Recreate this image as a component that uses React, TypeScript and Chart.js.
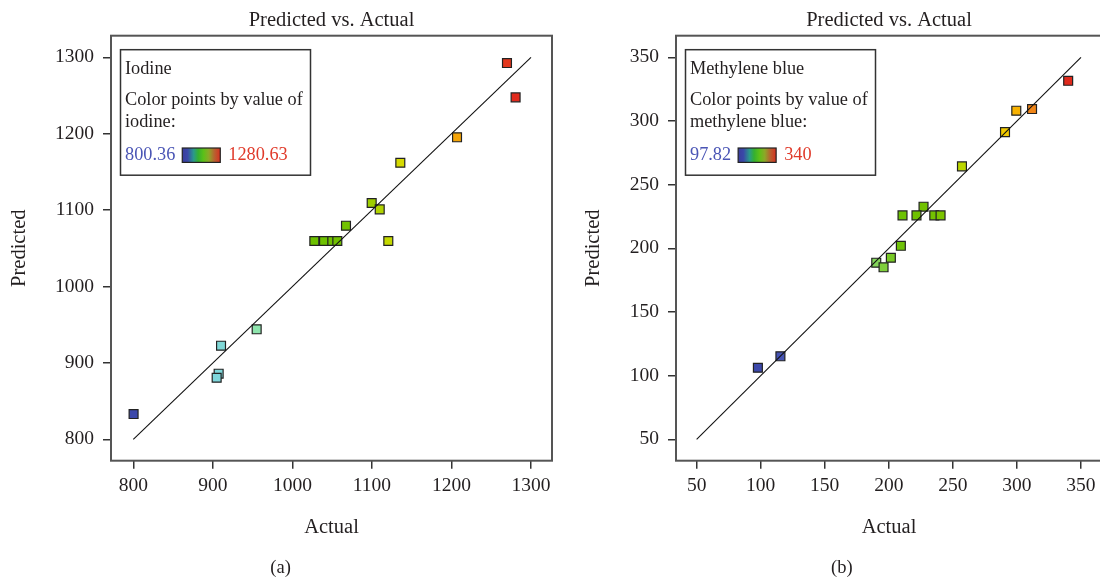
import React, { useEffect, useRef } from 'react';
import { Chart, registerables } from 'chart.js';

Chart.register(...registerables);

const FONT = '"Liberation Serif", "DejaVu Serif", serif';
const TEXT = '#231f20';

// ---------- Panel (a): Iodine ----------
const iodineActual = [1269.8, 1280.63, 1207, 1135.7, 1099.7, 1109.8, 1067.4, 1027.6, 1039.8, 1050.2, 1056.5, 1120.6, 955.1, 910.3, 907.3, 904.8, 800.36];
const iodinePredicted = [1292.5, 1247.6, 1195.3, 1162, 1109.3, 1101, 1079.6, 1059.6, 1059.6, 1059.6, 1059.6, 1059.6, 944, 922.5, 885.9, 880.6, 833.1];
const iodineTicks = [800, 900, 1000, 1100, 1200, 1300];
const iodineRange = [800.36, 1280.63];
const iodineLine = [800, 1300];

// ---------- Panel (b): Methylene blue ----------
const mbActual = [340, 311.8, 299.5, 290.7, 257.1, 227.1, 210.7, 221.6, 235.5, 240.4, 209.4, 201.6, 190.2, 195.9, 115.4, 97.82];
const mbPredicted = [331.6, 309.4, 308.1, 291.3, 264.4, 232.7, 225.9, 225.9, 225.9, 225.9, 202, 192.6, 188.7, 185.1, 115.2, 106.2];
const mbTicks = [50, 100, 150, 200, 250, 300, 350];
const mbRange = [97.82, 340];
const mbLine = [50, 350];

// ---------- colour map (style) ----------
const pointStops: [number, string][] = [
  [0.0, '#3c48aa'],
  [0.08, '#4654b4'],
  [0.2, '#7cd4e4'],
  [0.32, '#8ee6b0'],
  [0.4, '#80d040'],
  [0.47, '#6cc000'],
  [0.58, '#74c200'],
  [0.63, '#a4d000'],
  [0.68, '#d0dc00'],
  [0.79, '#f2d000'],
  [0.83, '#f8b400'],
  [0.88, '#f08818'],
  [0.94, '#e85020'],
  [1.0, '#e02a1c'],
];
const legendStops: [number, string][] = [
  [0, '#3a3c9c'],
  [0.14, '#3a48a8'],
  [0.3, '#2a9a8a'],
  [0.42, '#34b030'],
  [0.56, '#5cc018'],
  [0.7, '#8ca828'],
  [0.85, '#b86030'],
  [1, '#d83020'],
];

function hexRgb(h: string) {
  const n = parseInt(h.slice(1), 16);
  return [(n >> 16) & 255, (n >> 8) & 255, n & 255];
}
function colorFor(v: number, min: number, max: number) {
  const t = Math.max(0, Math.min(1, (v - min) / (max - min)));
  for (let i = 1; i < pointStops.length; i++) {
    const [t1, c1] = pointStops[i];
    const [t0, c0] = pointStops[i - 1];
    if (t <= t1) {
      const f = (t - t0) / (t1 - t0 || 1);
      const a = hexRgb(c0), b = hexRgb(c1);
      const r = a.map((x, k) => Math.round(x + (b[k] - x) * f));
      return `rgb(${r[0]},${r[1]},${r[2]})`;
    }
  }
  return pointStops[pointStops.length - 1][1];
}

type PanelCfg = {
  actual: number[];
  predicted: number[];
  ticks: number[];
  range: number[];
  line: number[];
  xMin: number; xMax: number; yMin: number; yMax: number;
  yAxisWidth: number;
  yTitlePad: number;
  legendTitle: string;
  legendLines: string[];
  panel: string;
  panelX: number;
};

function decorPlugin(cfg: PanelCfg) {
  return {
    id: 'decor',
    afterDraw(chart: any) {
      const { ctx, chartArea: a } = chart;
      ctx.save();
      // frame
      ctx.strokeStyle = '#555555';
      ctx.lineWidth = 2;
      ctx.strokeRect(a.left, a.top, a.right - a.left, a.bottom - a.top);
      // title
      ctx.fillStyle = TEXT;
      ctx.font = `20.5px ${FONT}`;
      ctx.textAlign = 'center';
      ctx.textBaseline = 'alphabetic';
      ctx.fillText('Predicted vs. Actual', (a.left + a.right) / 2, 25.7);
      // panel label
      ctx.font = `18.5px ${FONT}`;
      ctx.fillText(cfg.panel, cfg.panelX, 572.5);
      // legend box
      const bx = a.left + 9.5, by = a.top + 14, bw = 190, bh = 125.5;
      ctx.fillStyle = '#ffffff';
      ctx.fillRect(bx, by, bw, bh);
      ctx.strokeStyle = '#333';
      ctx.lineWidth = 1.5;
      ctx.strokeRect(bx, by, bw, bh);
      ctx.font = `18.3px ${FONT}`;
      ctx.textAlign = 'left';
      ctx.fillStyle = TEXT;
      const tx = bx + 4.5;
      ctx.fillText(cfg.legendTitle, tx, by + 24.2);
      ctx.fillText(cfg.legendLines[0], tx, by + 55.5);
      ctx.fillText(cfg.legendLines[1], tx, by + 77.7);
      const minTxt = String(cfg.range[0]);
      const maxTxt = String(cfg.range[1]);
      ctx.fillStyle = '#4a55b5';
      ctx.fillText(minTxt, tx, by + 110);
      const w = ctx.measureText(minTxt).width;
      const gx = tx + w + 7, gy = by + 98.3, gw = 38, gh = 14.4;
      const g = ctx.createLinearGradient(gx, 0, gx + gw, 0);
      legendStops.forEach(([t, c]) => g.addColorStop(t, c));
      ctx.fillStyle = g;
      ctx.fillRect(gx, gy, gw, gh);
      ctx.strokeStyle = '#222';
      ctx.lineWidth = 1.2;
      ctx.strokeRect(gx, gy, gw, gh);
      ctx.fillStyle = '#e03a2a';
      ctx.fillText(maxTxt, gx + gw + 8, by + 110);
      ctx.restore();
    },
  };
}

function Panel({ cfg, left, width }: { cfg: PanelCfg; left: number; width: number }) {
  const ref = useRef<HTMLCanvasElement>(null);
  useEffect(() => {
    const points = cfg.actual.map((x, i) => ({ x, y: cfg.predicted[i] }));
    const colors = cfg.actual.map((v) => colorFor(v, cfg.range[0], cfg.range[1]));
    const tickFont = { family: FONT, size: 19.5 };
    const titleFont = { family: FONT, size: 20.5 };
    const grid = {
      display: true,
      drawOnChartArea: false,
      drawTicks: true,
      tickLength: 8,
      color: '#333',
      lineWidth: 1.5,
    };
    const fmt = (v: any) => String(v);
    const chart = new Chart(ref.current as HTMLCanvasElement, {
      type: 'scatter',
      data: {
        datasets: [
          {
            data: cfg.line.map((v) => ({ x: v, y: v })),
            showLine: true,
            borderColor: '#111',
            borderWidth: 1.1,
            pointRadius: 0,
            order: 0,
          } as any,
          {
            data: points,
            pointStyle: 'rect',
            pointRadius: 6.3,
            backgroundColor: colors,
            borderColor: '#222',
            borderWidth: 1.2,
            order: 1,
          },
        ],
      },
      options: {
        responsive: false,
        animation: false,
        events: [],
        layout: { padding: { left: 0, right: 8, top: 35.7, bottom: 37.3 } },
        plugins: {
          legend: { display: false },
          tooltip: { enabled: false },
          title: { display: false },
        },
        scales: {
          x: {
            type: 'linear',
            min: cfg.xMin,
            max: cfg.xMax,
            afterBuildTicks: (s: any) => {
              s.ticks = cfg.ticks.map((v) => ({ value: v }));
            },
            afterFit: (s: any) => {
              s.height = 84;
            },
            grid,
            border: { display: false },
            ticks: { color: TEXT, font: tickFont, padding: 5, maxRotation: 0, autoSkip: false, callback: fmt },
            title: {
              display: true,
              text: 'Actual',
              color: TEXT,
              font: titleFont,
              padding: { top: 0, bottom: 4.4 },
            },
          },
          y: {
            type: 'linear',
            min: cfg.yMin,
            max: cfg.yMax,
            afterBuildTicks: (s: any) => {
              s.ticks = cfg.ticks.map((v) => ({ value: v }));
            },
            afterFit: (s: any) => {
              s.width = cfg.yAxisWidth;
            },
            grid,
            border: { display: false },
            ticks: { color: TEXT, font: tickFont, padding: 9, autoSkip: false, callback: fmt },
            title: {
              display: true,
              text: 'Predicted',
              color: TEXT,
              font: titleFont,
              padding: { top: cfg.yTitlePad, bottom: 0 },
            },
          },
        },
      } as any,
      plugins: [decorPlugin(cfg)],
    });
    return () => chart.destroy();
  }, []);
  return (
    <canvas
      ref={ref}
      width={width}
      height={582}
      style={{ position: 'absolute', left, top: 0, width, height: 582 }}
    />
  );
}

const iodineCfg: PanelCfg = {
  actual: iodineActual,
  predicted: iodinePredicted,
  ticks: iodineTicks,
  range: iodineRange,
  line: iodineLine,
  xMin: 771.96, xMax: 1326.4, yMin: 772, yMax: 1328.3,
  yAxisWidth: 111,
  yTitlePad: 7.7,
  legendTitle: 'Iodine',
  legendLines: ['Color points by value of', 'iodine:'],
  panel: '(a)',
  panelX: 280.6,
};

const mbCfg: PanelCfg = {
  actual: mbActual,
  predicted: mbPredicted,
  ticks: mbTicks,
  range: mbRange,
  line: mbLine,
  xMin: 33.9, xMax: 366.4, yMin: 33.2, yMax: 367,
  yAxisWidth: 106,
  yTitlePad: 11.7,
  legendTitle: 'Methylene blue',
  legendLines: ['Color points by value of', 'methylene blue:'],
  panel: '(b)',
  panelX: 271.8,
};

export default function App() {
  return (
    <div
      style={{
        position: 'fixed',
        left: 0,
        top: 0,
        width: 1100,
        height: 582,
        overflow: 'hidden',
        background: '#fff',
      }}
    >
      <Panel cfg={iodineCfg} left={0} width={560} />
      <Panel cfg={mbCfg} left={570} width={540} />
    </div>
  );
}
